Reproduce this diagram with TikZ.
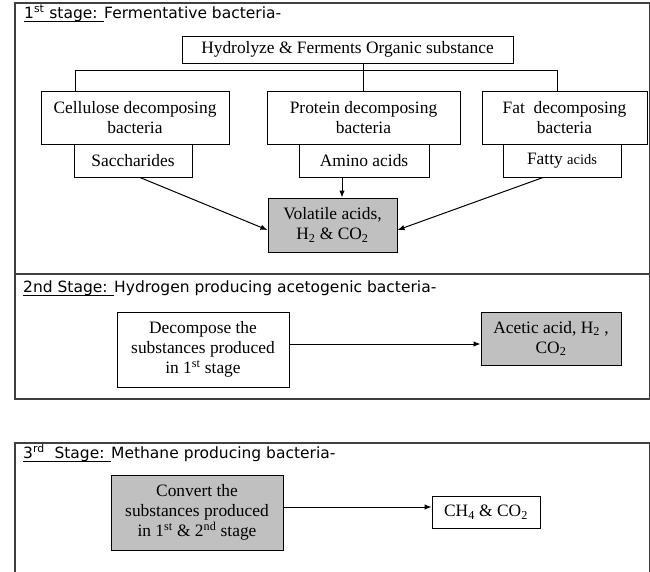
\documentclass[tikz,border=0pt]{standalone}
\usepackage{fontspec}
\setmainfont{Liberation Serif}
\newfontfamily\titlefont{DejaVu Sans}
\usetikzlibrary{arrows.meta}
\definecolor{boxgray}{HTML}{C0C0C0}
\definecolor{framecol}{HTML}{404040}
\newcommand\myul[1]{\setbox0=\hbox{#1}\rlap{\rule[-3.5pt]{\wd0}{0.9pt}}\box0}
\begin{document}
\begin{tikzpicture}[x=1pt,y=-1pt,
  bx/.style={draw=black, line width=1pt, inner sep=0pt, align=center, font=\fontsize{17.4}{20}\selectfont},
  gbx/.style={bx, fill=boxgray},
  frm/.style={draw=framecol, line width=1.3pt},
  ttl/.style={anchor=base west, inner sep=0pt, font=\titlefont\fontsize{15.5}{18}\selectfont},
  ln/.style={draw=black, line width=1pt},
  arr/.style={ln, -{Latex[length=7pt,width=5.5pt]}}
]
\useasboundingbox (0,0) rectangle (650,571);
% frames
\draw[frm] (15,3) rectangle (649.5,274);
\draw[frm] (15,274) rectangle (649.5,399);
\draw[frm] (15,580) -- (15,443) -- (649.5,443) -- (649.5,580);
% titles
\node[ttl] (t1) at (24,18) {\myul{1\textsuperscript{st} stage: }Fermentative bacteria-};
\node[ttl] (t2) at (23,292) {\myul{2nd Stage: }Hydrogen producing acetogenic bacteria-};
\node[ttl] (t3) at (23,458) {\myul{3\textsuperscript{rd}\ \ Stage: }Methane producing bacteria-};
% stage 1
\node[bx, minimum width=331, minimum height=27] (hyd) at (347.5,49.5) {Hydrolyze \& Ferments Organic substance};
\node[bx, minimum width=188, minimum height=53] (cell) at (135,117.5) {Cellulose decomposing\\bacteria};
\node[bx, minimum width=193, minimum height=53] (prot) at (363.5,117.5) {Protein decomposing\\bacteria};
\node[bx, minimum width=165, minimum height=53] (fat) at (564.5,117.5) {Fat~ decomposing\\bacteria};
\node[bx, minimum width=118, minimum height=33] (sacc) at (133,160.5) {Saccharides};
\node[bx, minimum width=130, minimum height=33] (amino) at (364,160.5) {Amino acids};
\node[bx, minimum width=118, minimum height=33] (fatty) at (562,160.5) {Fatty {\fontsize{14.5}{17}\selectfont acids}};
\node[gbx, minimum width=129, minimum height=54] (vol) at (332.5,225) {Volatile acids,\\H\textsubscript{2} \& CO\textsubscript{2}};
\coordinate (hub) at (363,70);
\coordinate (hl) at (75,70);
\coordinate (hr) at (557,70);
\draw[ln] (hub |- hyd.south) -- (hub);
\draw[ln] (hl |- cell.north) -- (hl) -- (hr) -- (hr |- fat.north);
\draw[ln] (hub) -- (hub |- prot.north);
\draw[arr] ([xshift=7pt]sacc.south) -- ([yshift=-5pt]vol.west);
\draw[arr] ([xshift=-19pt]fatty.south) -- ([yshift=-5pt]vol.east);
\draw[arr] ([xshift=-22pt]amino.south) -- ([xshift=9.5pt]vol.north);
% stage 2
\node[bx, minimum width=172, minimum height=75] (dec) at (203,349.5) {Decompose the\\substances produced\\in 1\textsuperscript{st} stage};
\node[gbx, minimum width=140, minimum height=53] (acet) at (551,338.5) {Acetic acid, H\textsubscript{2} ,\\CO\textsubscript{2}};
\draw[arr] ([yshift=5.5pt]dec.east) -- ([yshift=-5.5pt]acet.west);
% stage 3
\node[gbx, minimum width=172, minimum height=75] (conv) at (197,512.5) {Convert the\\substances produced\\in 1\textsuperscript{st} \& 2\textsuperscript{nd} stage};
\node[bx, minimum width=108, minimum height=32] (ch4) at (486,512) {CH\textsubscript{4} \& CO\textsubscript{2}};
\draw[arr] ([yshift=5.5pt]conv.east) -- ([yshift=5pt]ch4.west);
\end{tikzpicture}
\end{document}
